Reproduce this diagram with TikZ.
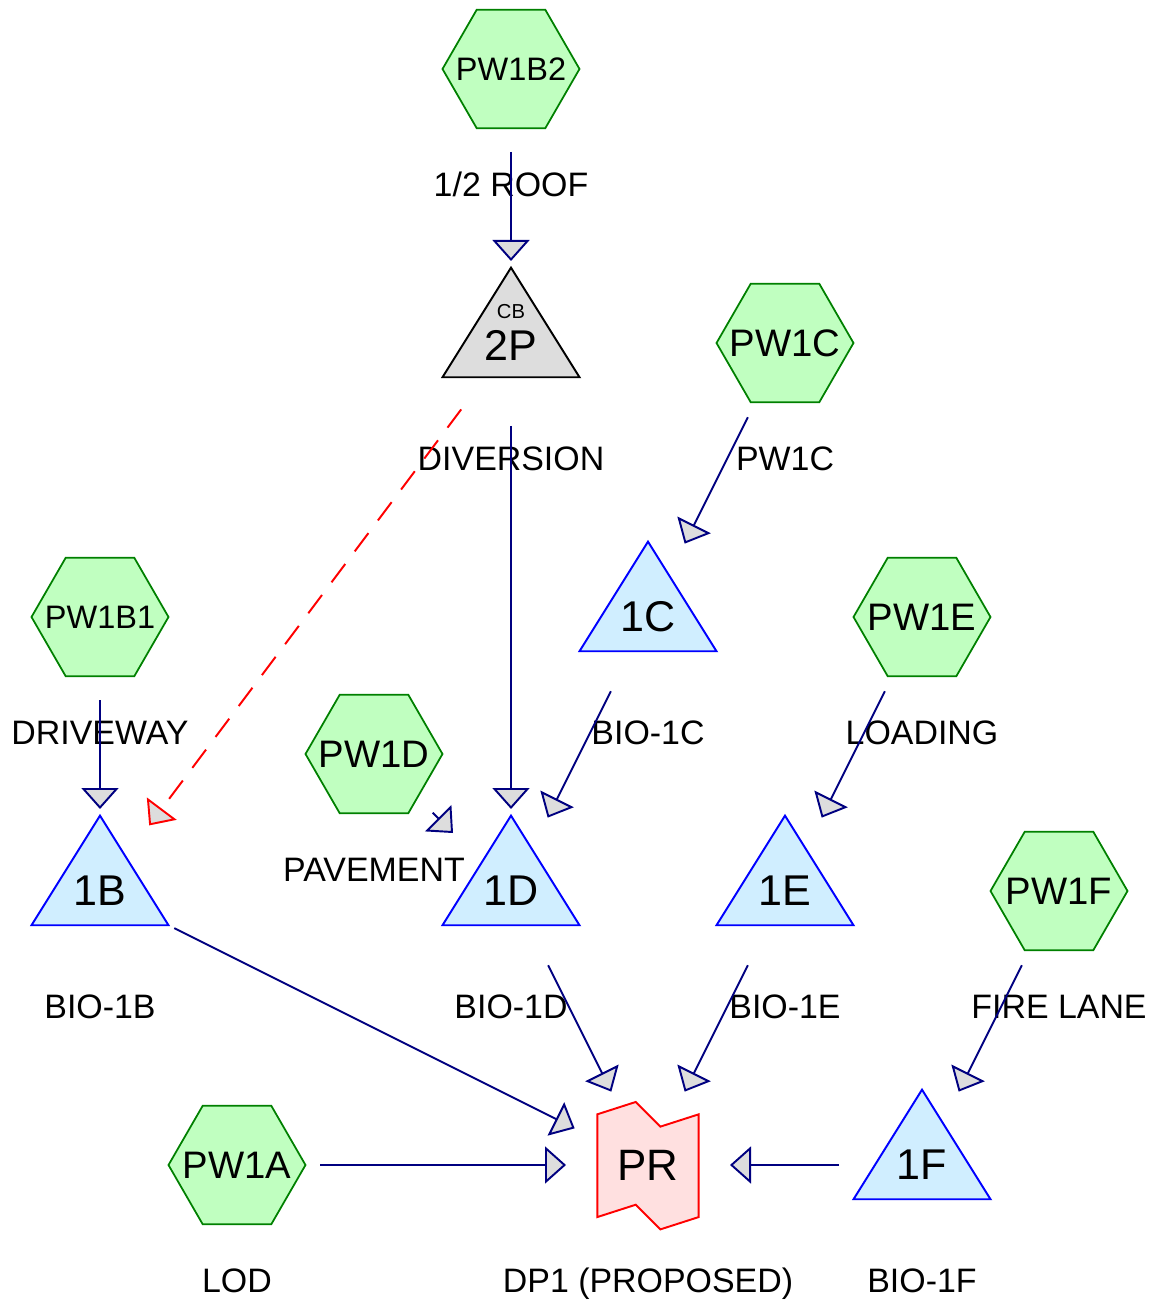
\documentclass[tikz,border=0pt]{standalone}
\usepackage{fontspec}
\setmainfont{Liberation Sans}
\usetikzlibrary{shapes, backgrounds, arrows.meta}
\definecolor{subcatFill}{RGB}{192,255,192}
\definecolor{subcatDraw}{RGB}{0,128,0}
\definecolor{pondFill}{RGB}{208,238,255}
\definecolor{reachFill}{RGB}{255,224,224}
\definecolor{arcDraw}{RGB}{0,0,128}
\definecolor{tipFill}{RGB}{221,221,221}
\tikzstyle{subcatNode}=[inner sep=0pt, font=\fontsize{21.8}{26}\selectfont]
\tikzstyle{subcatSmallNode}=[subcatNode, font=\fontsize{18.5}{22}\selectfont]
\tikzstyle{subcatShape}=[draw=subcatDraw, fill=subcatFill, line width=1pt]
\tikzstyle{pondNode}=[inner sep=0pt, font=\fontsize{24.5}{29}\selectfont]
\tikzstyle{pondShape}=[draw=blue, fill=pondFill, line width=1.1pt]
\tikzstyle{divShape}=[draw=black, fill=tipFill, line width=1.1pt]
\tikzstyle{reachShape}=[draw=red, fill=reachFill, line width=1.1pt]
\tikzstyle{labelNode}=[inner sep=0pt, anchor=base, font=\fontsize{19.3}{23}\selectfont]
\tikzstyle{flowArc}=[line width=1.1pt, draw=arcDraw, -{Triangle[length=0.42cm, width=0.74cm, fill=tipFill]}, shorten <=1.66cm, shorten >=1.64cm]
\tikzstyle{divertArc}=[flowArc, draw=red, dash pattern=on 13pt off 9pt]

\begin{document}
\begin{tikzpicture}[x=2.74cm, y=-2.74cm]
    \useasboundingbox (-0.7299,-0.5036) rectangle (7.7299,9.0657);

    % Subcatchment Nodes
    \node[subcatSmallNode] (pw1b2) at (3,0) {PW1B2};
    \node[subcatNode] (pw1c) at (5,2) {PW1C};
    \node[subcatSmallNode] (pw1b1) at (0,4) {PW1B1};
    \node[subcatNode] (pw1e) at (6,4) {PW1E};
    \node[subcatNode] (pw1d) at (2,5) {PW1D};
    \node[subcatNode] (pw1f) at (7,6) {PW1F};
    \node[subcatNode] (pw1a) at (1,8) {PW1A};

    % Pond Nodes
    \node[pondNode] (p2) at (3,2.02) {2P};
    \node[pondNode, font=\fontsize{11.5}{14}\selectfont] (p2type) at (3,1.77) {CB};
    \node[pondNode] (p1c) at (4,4) {1C};
    \node[pondNode] (p1b) at (0,6) {1B};
    \node[pondNode] (p1d) at (3,6) {1D};
    \node[pondNode] (p1e) at (5,6) {1E};
    \node[pondNode] (p1f) at (6,8) {1F};

    % Reach Node
    \node[pondNode, font=\fontsize{25}{30}\selectfont] (pr) at (4,8) {PR};

    % Shapes behind the texts
    \begin{scope}[on background layer]
        \foreach \n in {pw1b2,pw1c,pw1b1,pw1e,pw1d,pw1f,pw1a}
            \draw[subcatShape] (\n.center) ++(-0.5,0) -- ++(0.25,-0.433) -- ++(0.5,0) -- ++(0.25,0.433)
                -- ++(-0.25,0.433) -- ++(-0.5,0) -- cycle;
        \draw[divShape] (3,2) ++(-0.5,0.25) -- ++(0.5,-0.8) -- ++(0.5,0.8) -- cycle;
        \foreach \n in {p1c,p1b,p1d,p1e,p1f}
            \draw[pondShape] (\n.center) ++(-0.5,0.25) -- ++(0.5,-0.8) -- ++(0.5,0.8) -- cycle;
        \draw[reachShape] (pr.center) ++(-0.37,-0.37) -- ++(0.28,-0.09) -- ++(0.18,0.18) -- ++(0.28,-0.09)
            -- ++(0,0.75) -- ++(-0.28,0.09) -- ++(-0.18,-0.18) -- ++(-0.28,0.09) -- cycle;
    \end{scope}

    % Labels
    \node[labelNode] (t1) at (3,0.93) {1/2 ROOF};
    \node[labelNode] (t2) at (3,2.93) {DIVERSION};
    \node[labelNode] (t3) at (5,2.93) {PW1C};
    \node[labelNode] (t4) at (0,4.93) {DRIVEWAY};
    \node[labelNode] (t5) at (4,4.93) {BIO-1C};
    \node[labelNode] (t6) at (6,4.93) {LOADING};
    \node[labelNode] (t7) at (2,5.93) {PAVEMENT};
    \node[labelNode] (t8) at (0,6.93) {BIO-1B};
    \node[labelNode] (t9) at (3,6.93) {BIO-1D};
    \node[labelNode] (t10) at (5,6.93) {BIO-1E};
    \node[labelNode] (t11) at (7,6.93) {FIRE LANE};
    \node[labelNode] (t12) at (1,8.93) {LOD};
    \node[labelNode] (t13) at (4,8.93) {DP1 (PROPOSED)};
    \node[labelNode] (t14) at (6,8.93) {BIO-1F};

    % Flow Arcs
    \coordinate (p2c) at (3,2);
    \draw[flowArc] (pw1b2.center) -- (p2c);
    \draw[flowArc] (p2c) -- (p1d.center);
    \draw[divertArc] (p2c) -- (p1b.center);
    \draw[flowArc] (pw1c.center) -- (p1c.center);
    \draw[flowArc] (p1c.center) -- (p1d.center);
    \draw[flowArc] (pw1b1.center) -- (p1b.center);
    \draw[flowArc] (pw1d.center) -- (p1d.center);
    \draw[flowArc] (pw1e.center) -- (p1e.center);
    \draw[flowArc] (pw1f.center) -- (p1f.center);
    \draw[flowArc] (p1b.center) -- (pr.center);
    \draw[flowArc] (p1d.center) -- (pr.center);
    \draw[flowArc] (p1e.center) -- (pr.center);
    \draw[flowArc] (pw1a.center) -- (pr.center);
    \draw[flowArc] (p1f.center) -- (pr.center);

\end{tikzpicture}
\end{document}
